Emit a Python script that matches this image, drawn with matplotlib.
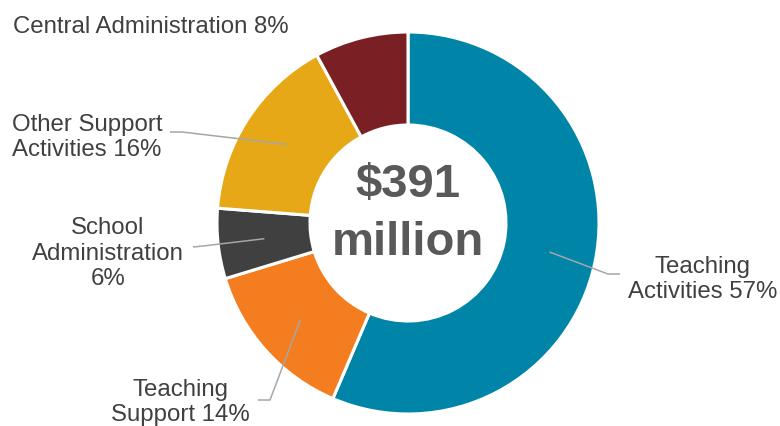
import matplotlib
matplotlib.use("Agg")
import matplotlib.pyplot as plt
import numpy as np

# Spending breakdown (share of total, %)
categories = ["Teaching\nActivities 57%", "Teaching\nSupport 14%", "School\nAdministration\n6%",
              "Other Support\nActivities 16%", "Central Administration 8%"]
shares = [57, 14, 6, 16, 8]
colors = ["#0085A9", "#F47D20", "#404040", "#E6A817", "#7A2024"]

W, H = 780, 427
fig = plt.figure(figsize=(W / 100, H / 100), dpi=100)
ax = fig.add_axes([0, 0, 1, 1])

cx, cy = 408, H - 224
r_out, r_in = 191, 98

wedges, _ = ax.pie(shares, colors=colors, startangle=90, counterclock=False,
                   radius=r_out, center=(cx, cy),
                   wedgeprops=dict(width=r_out - r_in, edgecolor="white", linewidth=2.2))

ax.set_xlim(0, W)
ax.set_ylim(0, H)
ax.set_aspect("equal")
ax.axis("off")

font = "Liberation Sans"
txt_color = "#404040"
line_color = "#A6A6A6"

ax.text(cx, H - 197, "$391", ha="center", va="baseline", fontsize=34,
        fontweight="bold", color="#595959", family=font)
ax.text(cx, H - 255, "million", ha="center", va="baseline", fontsize=34,
        fontweight="bold", color="#595959", family=font)

# mid-angle of each wedge, on the ring's middle radius
total = sum(shares)
cum = np.cumsum([0] + shares)
r_mid = (r_out + r_in) / 2

def anchor(i):
    ang = np.deg2rad(90 - (cum[i] + shares[i] / 2) / total * 360)
    return cx + r_mid * np.cos(ang), cy + r_mid * np.sin(ang)

# label layout: (text x, last-line baseline y, alignment, elbow points in pixel coords)
layout = {
    0: (703, 298, "center", [(608, 275), (620, 275)]),
    1: (180, 421.5, "center", [(270, 401), (258, 401)]),
    2: (108, 285, "center", [(203, 247), (193, 248)]),
    3: (12, 156, "left", [(182, 133), (170, 133)]),
    4: (13, 33, "left", None),
}

for i, label in enumerate(categories):
    tx, ty, ha, elbows = layout[i]
    ax.text(tx, H - ty, label, ha=ha, va="baseline", fontsize=17.3, color=txt_color,
            family=font, multialignment="center" if ha == "center" else "left",
            linespacing=1.2)
    if elbows:
        ax0, ay0 = anchor(i)
        xs = [ax0] + [p[0] for p in elbows]
        ys = [ay0] + [H - p[1] for p in elbows]
        ax.plot(xs, ys, color=line_color, linewidth=1.1, solid_capstyle="butt")

fig.savefig("out.png", dpi=100)
